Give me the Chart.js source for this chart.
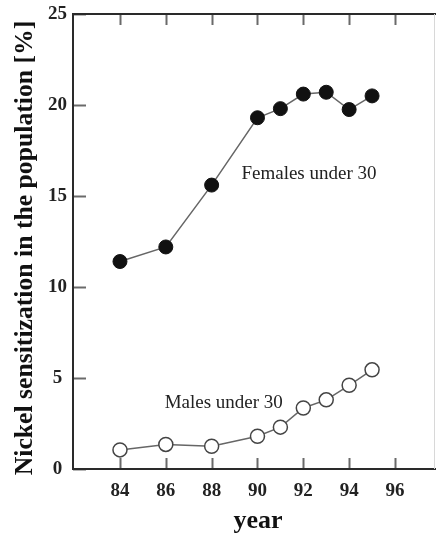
<!DOCTYPE html>
<html>
<head>
<meta charset="utf-8">
<script src="https://cdn.jsdelivr.net/npm/chart.js@4.4.1/dist/chart.umd.min.js"></script>
<style>
  html, body { margin: 0; padding: 0; background: #fff; overflow: hidden; }
  #wrap { width: 436px; height: 537px; }
</style>
</head>
<body>
<div id="wrap"><canvas id="myChart" width="436" height="537"></canvas></div>
<script>
// data
const years = [84, 86, 88, 90, 91, 92, 93, 94, 95];
const females = [11.4, 12.2, 15.6, 19.3, 19.8, 20.6, 20.7, 19.75, 20.5];
const males = [1.05, 1.35, 1.25, 1.8, 2.3, 3.35, 3.8, 4.6, 5.45];
const xTicks = [84, 86, 88, 90, 92, 94, 96];
const yTicks = [0, 5, 10, 15, 20, 25];

const serif = "'Liberation Serif', 'Times New Roman', serif";

// frame with inward tick marks
const framePlugin = {
  id: 'frame',
  beforeDatasetsDraw(chart) {
    const { ctx, chartArea: a, scales } = chart;
    ctx.save();
    ctx.strokeStyle = '#6a6a6a';
    ctx.lineWidth = 2;
    xTicks.forEach(v => {
      const x = Math.round(scales.x.getPixelForValue(v)) + 0.5;
      ctx.beginPath();
      ctx.moveTo(x, a.bottom); ctx.lineTo(x, a.bottom - 11);
      ctx.moveTo(x, a.top); ctx.lineTo(x, a.top + 11);
      ctx.stroke();
    });
    yTicks.forEach(v => {
      const y = Math.round(scales.y.getPixelForValue(v)) + 0.5;
      ctx.beginPath();
      ctx.moveTo(a.left, y); ctx.lineTo(a.left + 13, y);
      ctx.stroke();
    });
    ctx.strokeStyle = '#2a2a2a';
    ctx.lineWidth = 2;
    ctx.beginPath();
    ctx.moveTo(a.right, a.top);
    ctx.lineTo(a.left, a.top);
    ctx.lineTo(a.left, a.bottom);
    ctx.lineTo(a.right, a.bottom);
    ctx.stroke();
    ctx.strokeStyle = '#d8d8d8';
    ctx.lineWidth = 1;
    ctx.beginPath();
    ctx.moveTo(a.right - 1.5, a.top);
    ctx.lineTo(a.right - 1.5, a.bottom);
    ctx.stroke();
    ctx.restore();
  }
};

// series labels + axis titles
const labelPlugin = {
  id: 'seriesLabels',
  afterDatasetsDraw(chart, args, opts) {
    const { ctx, scales, chartArea: a } = chart;
    ctx.save();
    ctx.font = '19px ' + serif;
    ctx.fillStyle = '#222';
    ctx.textAlign = 'left';
    ctx.textBaseline = 'middle';
    opts.items.forEach(it => {
      ctx.fillText(it.text, scales.x.getPixelForValue(it.x), scales.y.getPixelForValue(it.y));
    });

    ctx.fillStyle = '#111';
    ctx.font = 'bold 26px ' + serif;
    ctx.textAlign = 'center';
    ctx.textBaseline = 'alphabetic';
    ctx.fillText(opts.xTitle, 258, 528);
    ctx.translate(32, 248);
    ctx.rotate(-Math.PI / 2);
    ctx.font = 'bold 25.7px ' + serif;
    ctx.fillText(opts.yTitle, 0, 0);
    ctx.restore();
  }
};

const ctx = document.getElementById('myChart').getContext('2d');
const myChart = new Chart(ctx, {
  type: 'line',
  data: {
    datasets: [{
      label: 'Females under 30',
      data: years.map((y, i) => ({ x: y, y: females[i] })),
      borderColor: '#666',
      borderWidth: 1.5,
      pointRadius: 7,
      pointBackgroundColor: '#111',
      pointBorderColor: '#111',
      pointBorderWidth: 1
    }, {
      label: 'Males under 30',
      data: years.map((y, i) => ({ x: y, y: males[i] })),
      borderColor: '#666',
      borderWidth: 1.5,
      pointRadius: 7,
      pointBackgroundColor: '#fff',
      pointBorderColor: '#444',
      pointBorderWidth: 1.5
    }]
  },
  options: {
    responsive: false,
    animation: false,
    layout: { autoPadding: false, padding: { top: 14, right: 0, left: 0, bottom: 0 } },
    plugins: {
      legend: { display: false },
      tooltip: { enabled: false },
      seriesLabels: {
        xTitle: 'year',
        yTitle: 'Nickel sensitization in the population [%]',
        items: [
          { text: 'Females under 30', x: 89.3, y: 16.2 },
          { text: 'Males under 30', x: 85.95, y: 3.6 }
        ]
      }
    },
    scales: {
      x: {
        type: 'linear',
        min: 81.95,
        max: 97.79,
        grid: { display: false, drawTicks: false },
        border: { display: false },
        afterBuildTicks: s => { s.ticks = xTicks.map(v => ({ value: v })); },
        afterFit: s => { s.height = 68; s.paddingLeft = 0; s.paddingRight = 0; },
        ticks: {
          padding: 11,
          color: '#222',
          font: { family: serif, size: 19, weight: 'bold' }
        }
      },
      y: {
        min: 0,
        max: 25,
        grid: { display: false, drawTicks: false },
        border: { display: false },
        afterBuildTicks: s => { s.ticks = yTicks.map(v => ({ value: v })); },
        afterFit: s => { s.width = 73; s.paddingTop = 0; s.paddingBottom = 0; },
        ticks: {
          padding: 6,
          crossAlign: 'center',
          color: '#222',
          font: { family: serif, size: 19, weight: 'bold' }
        }
      }
    }
  },
  plugins: [framePlugin, labelPlugin]
});
</script>
</body>
</html>
